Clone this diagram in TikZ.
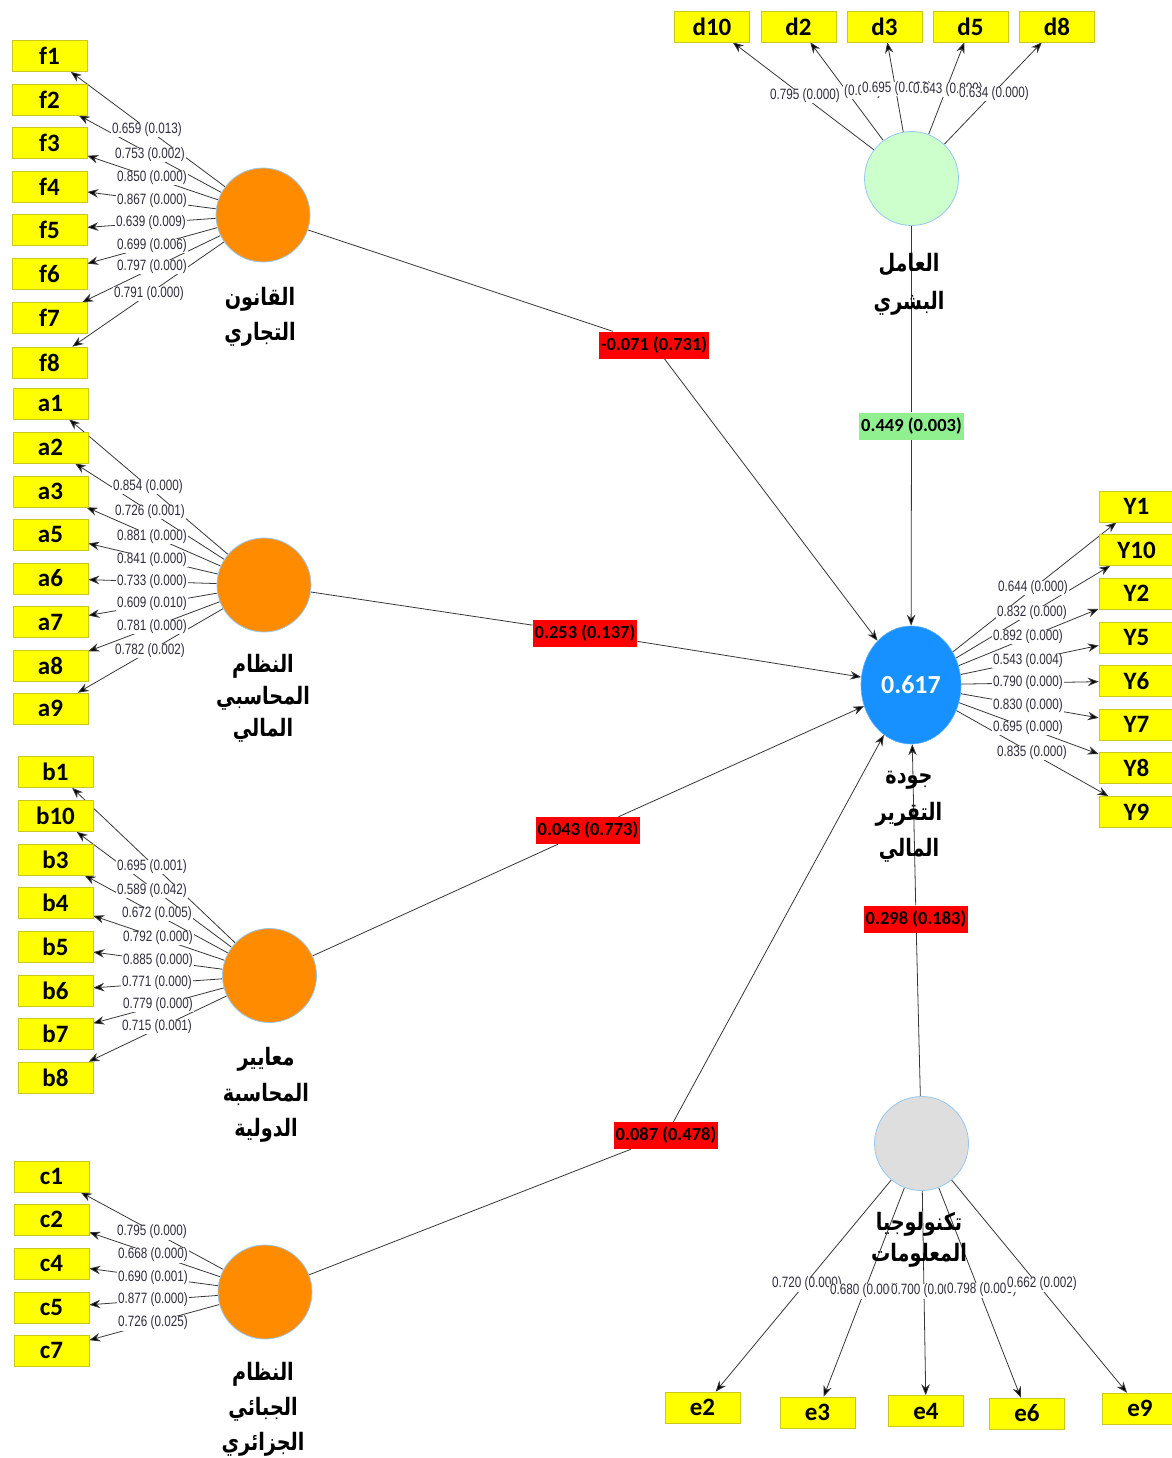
\documentclass[tikz,border=0pt]{standalone}
\usepackage{fontspec}
\usepackage{graphicx}
\setmainfont{Carlito}
\newfontfamily\arabicfont[Script=Arabic, FakeStretch=0.8]{DejaVu Sans}
\newfontfamily\loadfont[FakeStretch=0.78]{Liberation Sans}
\TeXXeTstate=1
\usetikzlibrary{arrows.meta,shapes.geometric}
\pgfdeclarelayer{edges}
\pgfsetlayers{edges,main}

\definecolor{itemyellow}{RGB}{255,255,0}
\definecolor{itemborder}{RGB}{200,200,30}
\definecolor{lvorange}{RGB}{255,140,0}
\definecolor{lvedge}{RGB}{150,200,240}
\definecolor{lvgreen}{RGB}{204,255,204}
\definecolor{lvblue}{RGB}{22,145,255}
\definecolor{lvgray}{RGB}{222,222,222}
\definecolor{pathred}{RGB}{255,0,0}
\definecolor{pathgreen}{RGB}{144,240,144}
\definecolor{wire}{RGB}{55,55,55}
\definecolor{loadtext}{RGB}{45,45,60}

\newcommand{\AR}[1]{\beginR #1\endR}

\tikzset{
  item/.style={draw=itemborder, fill=itemyellow, line width=0.6pt,
    minimum width=75pt, minimum height=31pt, inner sep=0pt,
    font=\fontsize{25}{25}\selectfont\bfseries},
  latent/.style={circle, minimum size=94pt, inner sep=0pt, draw=lvedge, line width=0.8pt},
  loading/.style={fill=white, inner xsep=1pt, inner ysep=0.5pt, text=loadtext,
    font=\loadfont\fontsize{15}{15}\selectfont},
  coef/.style={inner xsep=2pt, inner ysep=0pt, minimum height=27pt,
    font=\fontsize{18.5}{18.5}\selectfont\bfseries},
  arlabel/.style={align=center, inner sep=0pt},
  wire/.style={draw=wire, line width=0.8pt},
  arr/.style={wire, -{Stealth[length=11pt,width=8.5pt,fill=black]}},
}

\begin{document}
\begin{tikzpicture}[x=1pt,y=-1pt]
\useasboundingbox (0,0) rectangle (1171,1458);

% ---- latent variables
\node[latent, fill=lvorange] (F) at (263,215) {};
\node[latent, fill=lvorange] (A) at (264,585) {};
\node[latent, fill=lvorange] (B) at (269.5,975.5) {};
\node[latent, fill=lvorange] (C) at (265,1292) {};
\node[latent, fill=lvgreen]  (D) at (911.5,178.5) {};
\node[latent, fill=lvgray]   (E) at (921.5,1143.5) {};
\node[ellipse, minimum width=100pt, minimum height=118pt, inner sep=0pt,
      fill=lvblue, draw=lvblue!70!white, line width=0.6pt, text=white,
      font=\fontsize{26}{26}\selectfont\bfseries] (Y) at (911,685) {0.617};

% ---- construct names
\node[arlabel, font=\arabicfont\bfseries\fontsize{24}{35}\selectfont] (Fn) at (260,317) {\AR{القانون}\\\AR{التجاري}};
\node[arlabel, font=\arabicfont\bfseries\fontsize{24}{32}\selectfont] (An) at (263,698) {\AR{النظام}\\\AR{المحاسبي}\\\AR{المالي}};
\node[arlabel, font=\arabicfont\bfseries\fontsize{24}{35.5}\selectfont] (Bn) at (266,1095) {\AR{معايير}\\\AR{المحاسبة}\\\AR{الدولية}};
\node[arlabel, font=\arabicfont\bfseries\fontsize{24}{35}\selectfont] (Cn) at (263,1409) {\AR{النظام}\\\AR{الجبائي}\\\AR{الجزائري}};
\node[arlabel, font=\arabicfont\bfseries\fontsize{24}{38}\selectfont] (Dn) at (909,284) {\AR{العامل}\\\AR{البشري}};
\node[arlabel, font=\arabicfont\bfseries\fontsize{24}{36.5}\selectfont] (Yn) at (909,817) {\AR{جودة}\\\AR{التقرير}\\\AR{المالي}};
\node[arlabel, font=\arabicfont\bfseries\fontsize{24}{31}\selectfont] (En) at (919,1240) {\AR{تكنولوجيا}\\\AR{المعلومات}};

% ---- indicators
\foreach \n/\y in {f1/56,f2/99.5,f3/143,f4/187,f5/230,f6/274,f7/318,f8/362.5}
  \node[item] (\n) at (49.5,\y) {\n};
\foreach \n/\y in {a1/403.5,a2/447.5,a3/491.5,a5/534.5,a6/578.5,a7/622,a8/665.5,a9/708.5}
  \node[item] (\n) at (50.5,\y) {\n};
\foreach \n/\y in {b1/772,b10/816,b3/859.5,b4/903,b5/947,b6/990.5,b7/1033.5,b8/1077.5}
  \node[item] (\n) at (55.5,\y) {\n};
\foreach \n/\y in {c1/1176.5,c2/1219.5,c4/1263.5,c5/1307.5,c7/1350.5}
  \node[item] (\n) at (51.5,\y) {\n};
\foreach \n/\x in {d10/712,d2/798.5,d3/884.5,d5/970.5,d8/1057}
  \node[item] (\n) at (\x,26.5) {\n};
\foreach \n/\y in {Y1/506.5,Y10/550,Y2/593.5,Y5/637.5,Y6/681,Y7/724.5,Y8/768,Y9/812}
  \node[item] (\n) at (1136.5,\y) {\n};
\node[item] (e2) at (702.5,1407.5) {e2};
\node[item] (e3) at (817.5,1412.5) {e3};
\node[item] (e4) at (926,1411) {e4};
\node[item] (e6) at (1027,1413.5) {e6};
\node[item] (e9) at (1140,1408.5) {e9};

% ---- outer loadings
\foreach \i/\x/\y/\t in {1/147/130/0.659 (0.013), 2/150/155/0.753 (0.002), 3/152/178/0.850 (0.000),
    4/152/201/0.867 (0.000), 5/151/223/0.639 (0.009), 6/152/246/0.699 (0.006),
    7/152/267/0.797 (0.000), 8/149/294/0.791 (0.000)}
  \node[loading] (lf\i) at (\x,\y) {\t};
\foreach \i/\x/\y/\t in {1/148/487/0.854 (0.000), 2/150/512/0.726 (0.001), 3/152/537/0.881 (0.000),
    4/152/560/0.841 (0.000), 5/152/582/0.733 (0.000), 6/152/604/0.609 (0.010),
    7/152/627/0.781 (0.000), 8/150/651/0.782 (0.002)}
  \node[loading] (la\i) at (\x,\y) {\t};
\foreach \i/\x/\y/\t in {1/152/867/0.695 (0.001), 2/152/891/0.589 (0.042), 3/157/914/0.672 (0.005),
    4/158/938/0.792 (0.000), 5/158/961/0.885 (0.000), 6/157/983/0.771 (0.000),
    7/158/1005/0.779 (0.000), 8/157/1027/0.715 (0.001)}
  \node[loading] (lb\i) at (\x,\y) {\t};
\foreach \i/\x/\y/\t in {1/152/1232/0.795 (0.000), 2/153/1255/0.668 (0.000), 3/153/1278/0.690 (0.001),
    4/153/1300/0.877 (0.000), 5/153/1323/0.726 (0.025)}
  \node[loading] (lc\i) at (\x,\y) {\t};
\foreach \i/\x/\y/\t in {1/1033/588/0.644 (0.000), 2/1032/613/0.832 (0.000), 3/1028/637/0.892 (0.000),
    4/1028/661/0.543 (0.004), 5/1028/683/0.790 (0.000), 6/1028/706/0.830 (0.000),
    7/1028/728/0.695 (0.000), 8/1032/753/0.835 (0.000)}
  \node[loading] (ly\i) at (\x,\y) {\t};
% crowded labels above and below: each later label covers the end of the one before
\node[loading, anchor=west] (ld1) at (769,96) {0.795 (0.000)};
\node[loading, anchor=west] (ld2) at (843,92) {(0.000)};
\node[loading, anchor=west] (ld3) at (861,89) {0.695 (0.000)};
\node[loading, anchor=west] (ld4) at (912,90) {0.643 (0.000)};
\node[loading, anchor=west] (ld5) at (958,94) {0.634 (0.000)};
\node[loading, anchor=west] (le1) at (771,1284) {0.720 (0.000)};
\node[loading, anchor=west] (le2) at (829,1291) {0.680 (0.000)};
\node[loading, anchor=west] (le3) at (890,1291) {0.700 (0.000)};
\node[loading, anchor=west] (le4) at (946,1290) {0.798 (0.000)};
\node[loading, anchor=west] (le5) at (1006,1284) {0.662 (0.002)};

% ---- path coefficients
\node[coef, fill=pathred]   (pF) at (654,345) {-0.071 (0.731)};
\node[coef, fill=pathgreen] (pD) at (911.5,426) {0.449 (0.003)};
\node[coef, fill=pathred]   (pA) at (585,633) {0.253 (0.137)};
\node[coef, fill=pathred]   (pB) at (588,830.5) {0.043 (0.773)};
\node[coef, fill=pathred]   (pE) at (916,919) {0.298 (0.183)};
\node[coef, fill=pathred]   (pC) at (666,1135.5) {0.087 (0.478)};

% ---- connectors
\begin{pgfonlayer}{edges}
  \foreach \n in {f1,f2,f3,f4,f5,f6,f7,f8} \draw[arr] (F) -- (\n);
  \foreach \n in {a1,a2,a3,a5,a6,a7,a8,a9} \draw[arr] (A) -- (\n);
  \foreach \n in {b1,b10,b3,b4,b5,b6,b7,b8} \draw[arr] (B) -- (\n);
  \foreach \n in {c1,c2,c4,c5,c7} \draw[arr] (C) -- (\n);
  \foreach \n in {d10,d2,d3,d5,d8} \draw[arr] (D) -- (\n);
  \foreach \n in {Y1,Y10,Y2,Y5,Y6,Y7,Y8,Y9} \draw[arr] (Y) -- (\n);
  \foreach \n in {e2,e3,e4,e6,e9} \draw[arr] (E) -- (\n);
  \foreach \s/\p in {F/pF,D/pD,A/pA,B/pB,E/pE,C/pC} {
    \draw[wire] (\s) -- (\p);
    \draw[arr] (\p) -- (Y);
  }
\end{pgfonlayer}
\end{tikzpicture}
\end{document}
